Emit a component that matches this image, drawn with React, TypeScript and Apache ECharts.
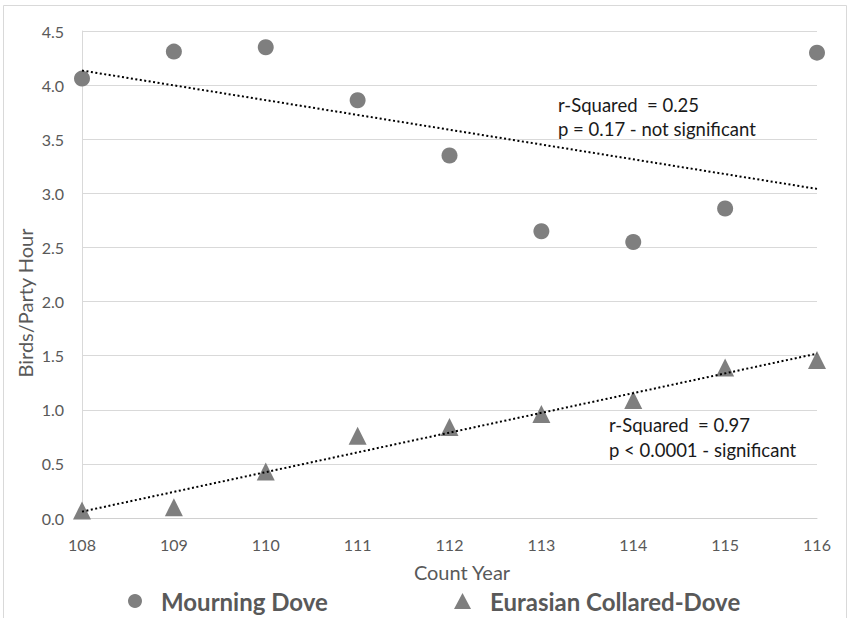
import React, { useEffect, useRef } from "react";
import * as echarts from "echarts";

const years = [108, 109, 110, 111, 112, 113, 114, 115, 116];
const mourningDove = [4.06, 4.31, 4.35, 3.86, 3.35, 2.65, 2.55, 2.86, 4.3];
const collaredDove = [0.07, 0.1, 0.43, 0.76, 0.84, 0.96, 1.09, 1.39, 1.46];
const yTicks = { min: 0, max: 4.5, interval: 0.5 };
const xTicks = { min: 108, max: 116, interval: 1 };
const annotations = [
  ["r-Squared  = 0.25", "p = 0.17 - not significant"],
  ["r-Squared  = 0.97", "p < 0.0001 - significant"],
];

function trend(xs: number[], ys: number[]) {
  const n = xs.length;
  const mx = xs.reduce((a, b) => a + b, 0) / n;
  const my = ys.reduce((a, b) => a + b, 0) / n;
  let sxy = 0;
  let sxx = 0;
  for (let i = 0; i < n; i++) {
    sxy += (xs[i] - mx) * (ys[i] - my);
    sxx += (xs[i] - mx) * (xs[i] - mx);
  }
  const b = sxy / sxx;
  const a = my - b * mx;
  const x0 = xs[0];
  const x1 = xs[n - 1];
  return [
    [x0, a + b * x0],
    [x1, a + b * x1],
  ];
}

const FONT = "Lato";
const GRAY = "#595959";
const MARK = "#7f7f7f";

export default function App() {
  const ref = useRef<HTMLDivElement>(null);
  useEffect(() => {
    document.body.style.margin = "0";
    const chart = echarts.init(ref.current!, undefined, { renderer: "svg" });
    const note = (t: string, x: number, y: number) => ({
      type: "text",
      x,
      y,
      style: {
        text: t,
        fill: "#1a1a1a",
        font: `18.5px ${FONT}`,
        verticalAlign: "middle",
      },
    });
    const legendText = {
      color: GRAY,
      fontSize: 24,
      fontWeight: "bold",
      fontFamily: FONT,
    };
    chart.setOption({
      animation: false,
      textStyle: { fontFamily: FONT },
      grid: { left: 82, right: 31, top: 31, bottom: 100 },
      xAxis: {
        type: "value",
        min: xTicks.min,
        max: xTicks.max,
        interval: xTicks.interval,
        axisLine: { show: true, lineStyle: { color: "#d0d0d0", width: 1 } },
        axisTick: { show: false },
        splitLine: { show: false },
        axisLabel: { color: GRAY, fontSize: 16, margin: 18, fontFamily: FONT },
      },
      yAxis: {
        type: "value",
        min: yTicks.min,
        max: yTicks.max,
        interval: yTicks.interval,
        axisLine: { show: true, lineStyle: { color: "#d9d9d9", width: 1 } },
        axisTick: { show: false },
        splitLine: { show: true, lineStyle: { color: "#d9d9d9", width: 1 } },
        axisLabel: {
          color: GRAY,
          fontSize: 16,
          margin: 18,
          fontFamily: FONT,
          formatter: (v: number) => v.toFixed(1),
        },
      },
      legend: [
        {
          data: ["Mourning Dove"],
          left: 128,
          top: 589,
          padding: 0,
          itemWidth: 14,
          itemHeight: 14,
          textStyle: { ...legendText, padding: [0, 0, 0, 14] },
        },
        {
          data: ["Eurasian Collared-Dove"],
          left: 454,
          top: 589,
          padding: 0,
          itemWidth: 17,
          itemHeight: 16,
          textStyle: { ...legendText, padding: [0, 0, 0, 14] },
        },
      ],
      graphic: [
        {
          type: "rect",
          shape: { x: 3.5, y: 5.5, width: 843, height: 640 },
          style: { fill: "none", stroke: "#d9d9d9", lineWidth: 1 },
          silent: true,
        },
        {
          type: "text",
          x: 462,
          y: 572,
          style: {
            text: "Count Year",
            fill: GRAY,
            font: `20px ${FONT}`,
            align: "center",
            verticalAlign: "middle",
          },
        },
        {
          type: "text",
          x: 25,
          y: 303,
          rotation: Math.PI / 2,
          style: {
            text: "Birds/Party Hour",
            fill: GRAY,
            font: `20px ${FONT}`,
            align: "center",
            verticalAlign: "middle",
          },
        },
        note(annotations[0][0], 558, 104.5),
        note(annotations[0][1], 558, 128.5),
        note(annotations[1][0], 609, 425),
        note(annotations[1][1], 609, 450),
      ],
      series: [
        {
          name: "Mourning Dove",
          type: "scatter",
          symbol: "circle",
          symbolSize: 16,
          itemStyle: { color: MARK, opacity: 1 },
          data: years.map((y, i) => [y, mourningDove[i]]),
          z: 2,
        },
        {
          name: "Eurasian Collared-Dove",
          type: "scatter",
          symbol: "triangle",
          symbolSize: 18,
          itemStyle: { color: MARK, opacity: 1 },
          data: years.map((y, i) => [y, collaredDove[i]]),
          z: 2,
        },
        {
          name: "Mourning Dove trend",
          type: "line",
          symbol: "none",
          data: trend(years, mourningDove),
          lineStyle: { color: "#000", width: 2, type: [2, 2.5] },
          z: 3,
        },
        {
          name: "Collared-Dove trend",
          type: "line",
          symbol: "none",
          data: trend(years, collaredDove),
          lineStyle: { color: "#000", width: 2, type: [2, 2.5] },
          z: 3,
        },
      ],
    });
    return () => chart.dispose();
  }, []);
  return <div ref={ref} style={{ width: 848, height: 618 }} />;
}
